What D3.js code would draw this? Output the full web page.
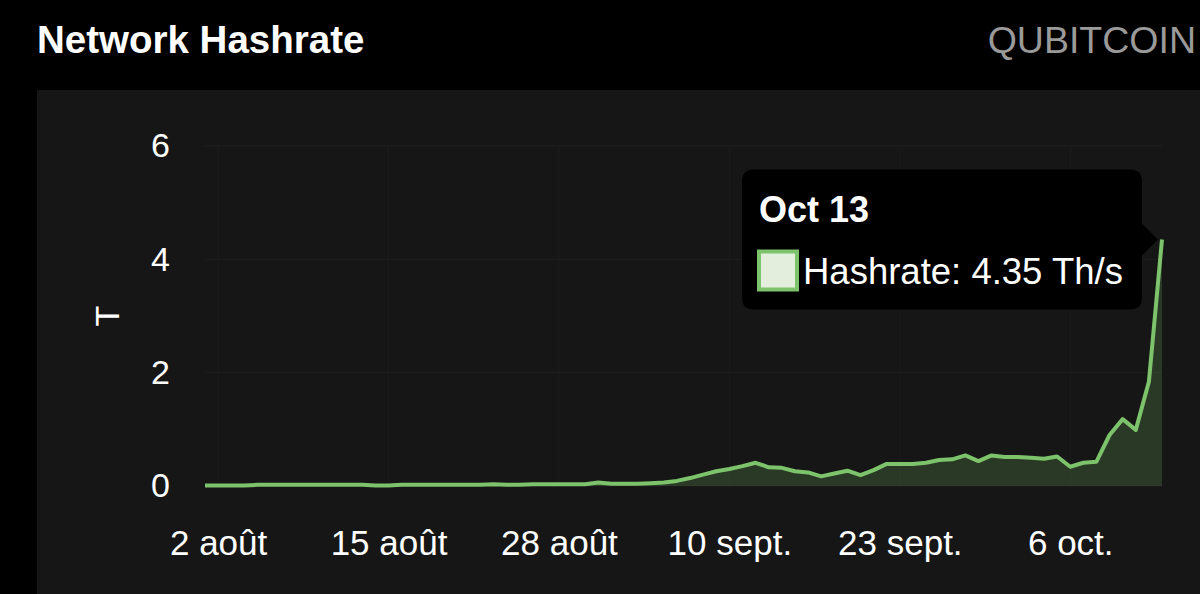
<!DOCTYPE html>
<html>
<head>
<meta charset="utf-8">
<script src="https://cdn.jsdelivr.net/npm/d3@7"></script>
<style>
    body { margin: 0; background: #000; }
    svg text { font-family: "Liberation Sans", Arial, Helvetica, sans-serif; }
</style>
</head>
<body>
<div id="chart"></div>
<script>
// first day of the series, one value per day (Th/s)
startDay = "2024-08-01"
hashrate = [
    0.01, 0.01, 0.01, 0.01, 0.02, 0.02, 0.02, 0.02, 0.02, 0.02,
    0.02, 0.02, 0.02, 0.01, 0.01, 0.02, 0.02, 0.02, 0.02, 0.02,
    0.02, 0.02, 0.03, 0.02, 0.02, 0.03, 0.03, 0.03, 0.03, 0.03,
    0.06, 0.04, 0.04, 0.04, 0.05, 0.06, 0.09, 0.14, 0.20, 0.26,
    0.30, 0.35, 0.41, 0.33, 0.32, 0.26, 0.24, 0.17, 0.22, 0.27,
    0.19, 0.28, 0.39, 0.39, 0.39, 0.41, 0.46, 0.47, 0.54, 0.44,
    0.54, 0.51, 0.51, 0.50, 0.48, 0.52, 0.34, 0.41, 0.43, 0.90,
    1.18, 0.99, 1.84, 4.35
]
xTicks = ["2024-08-02", "2024-08-15", "2024-08-28", "2024-09-10", "2024-09-23", "2024-10-06"]
yTicks = [0, 2, 4, 6]
tooltipTitle = "Oct 13"
tooltipLabel = "Hashrate: 4.35 Th/s"

var green = "#7cc36b"

// french short months, like the app shows
var fr = d3.timeFormatLocale({
    dateTime: "%A %e %B %Y à %X",
    date: "%d/%m/%Y",
    time: "%H:%M:%S",
    periods: ["AM", "PM"],
    days: ["dimanche", "lundi", "mardi", "mercredi", "jeudi", "vendredi", "samedi"],
    shortDays: ["dim.", "lun.", "mar.", "mer.", "jeu.", "ven.", "sam."],
    months: ["janvier", "février", "mars", "avril", "mai", "juin", "juillet", "août", "septembre", "octobre", "novembre", "décembre"],
    shortMonths: ["janv.", "févr.", "mars", "avr.", "mai", "juin", "juil.", "août", "sept.", "oct.", "nov.", "déc."]
})
var parseDay = d3.timeParse("%Y-%m-%d")

var data = hashrate.map(function (v, i) {
    return {date: d3.timeDay.offset(parseDay(startDay), i), value: v}
})

var width = 1200, height = 594
var plot = {left: 205, right: 1162, top: 146, bottom: 486}

var svg = d3.select("#chart").append("svg")
    .attr("width", width)
    .attr("height", height)

// header
svg.append("text")
    .attr("x", 37).attr("y", 53)
    .attr("fill", "#fff")
    .attr("font-size", 38.5)
    .attr("font-weight", 600)
    .text("Network Hashrate")

svg.append("text")
    .attr("x", 1196).attr("y", 53)
    .attr("text-anchor", "end")
    .attr("fill", "#9a9a9a")
    .attr("font-size", 37.5)
    .text("QUBITCOIN")

// dark panel behind the chart
svg.append("rect")
    .attr("x", 37).attr("y", 90)
    .attr("width", width - 37).attr("height", height - 90)
    .attr("fill", "#161616")

var x = d3.scaleTime()
    .domain(d3.extent(data, function (d) { return d.date; }))
    .range([plot.left, plot.right])
var y = d3.scaleLinear()
    .domain([0, 6])
    .range([plot.bottom, plot.top])

// faint grid
svg.append("g")
    .selectAll("line.h")
    .data(yTicks)
    .join("line")
    .attr("x1", plot.left).attr("x2", plot.right)
    .attr("y1", function (d) { return y(d); })
    .attr("y2", function (d) { return y(d); })
    .attr("stroke", "#1f1f1f")
svg.append("g")
    .selectAll("line.v")
    .data(xTicks.map(parseDay))
    .join("line")
    .attr("x1", function (d) { return x(d); })
    .attr("x2", function (d) { return x(d); })
    .attr("y1", plot.top).attr("y2", plot.bottom)
    .attr("stroke", "#1c1c1c")

// Y axis
var yAxis = svg.append("g")
    .attr("transform", "translate(" + plot.left + ",0)")
    .call(d3.axisLeft(y).tickValues(yTicks).tickFormat(d3.format("d")).tickSize(0).tickPadding(35))
yAxis.select(".domain").remove()
yAxis.selectAll("text")
    .attr("fill", "#fff")
    .attr("font-size", 34)
    .attr("font-family", null)

svg.append("text")
    .attr("transform", "translate(119,316) rotate(-90)")
    .attr("text-anchor", "middle")
    .attr("fill", "#fff")
    .attr("font-size", 34)
    .text("T")

// X axis
var xAxis = svg.append("g")
    .attr("transform", "translate(0," + plot.bottom + ")")
    .call(d3.axisBottom(x)
        .tickValues(xTicks.map(parseDay))
        .tickFormat(fr.format("%-d %b"))
        .tickSize(0)
        .tickPadding(69))
xAxis.select(".domain").remove()
xAxis.selectAll("text")
    .attr("fill", "#fff")
    .attr("font-size", 35)
    .attr("font-family", null)
    .attr("dy", 0)

// area + line
var area = d3.area()
    .x(function (d) { return x(d.date); })
    .y0(y(0))
    .y1(function (d) { return y(d.value); })
var valueline = d3.line()
    .x(function (d) { return x(d.date); })
    .y(function (d) { return y(d.value); })

svg.append("path")
    .datum(data)
    .attr("fill", green)
    .attr("fill-opacity", 0.2)
    .attr("d", area)
svg.append("path")
    .datum(data)
    .attr("fill", "none")
    .attr("stroke", green)
    .attr("stroke-width", 4)
    .attr("stroke-linejoin", "round")
    .attr("d", valueline)

// tooltip on the last point
var last = data[data.length - 1]
var tipX = x(last.date) - 4, tipY = y(last.value)
var bx1 = tipX - 16, bx0 = bx1 - 400, by0 = tipY - 70, by1 = tipY + 70, r = 12
var tip = svg.append("g")
tip.append("path")
    .attr("fill", "#000")
    .attr("d", "M" + (bx0 + r) + "," + by0 +
        " H" + (bx1 - r) + " Q" + bx1 + "," + by0 + " " + bx1 + "," + (by0 + r) +
        " V" + (tipY - 16) + " L" + tipX + "," + tipY + " L" + bx1 + "," + (tipY + 16) +
        " V" + (by1 - r) + " Q" + bx1 + "," + by1 + " " + (bx1 - r) + "," + by1 +
        " H" + (bx0 + r) + " Q" + bx0 + "," + by1 + " " + bx0 + "," + (by1 - r) +
        " V" + (by0 + r) + " Q" + bx0 + "," + by0 + " " + (bx0 + r) + "," + by0 + " Z")
tip.append("text")
    .attr("x", bx0 + 17).attr("y", by0 + 52)
    .attr("fill", "#fff")
    .attr("font-size", 36)
    .attr("font-weight", "bold")
    .text(tooltipTitle)
tip.append("rect")
    .attr("x", bx0 + 17).attr("y", by0 + 82)
    .attr("width", 38).attr("height", 38)
    .attr("fill", "#e3eedc")
    .attr("stroke", green)
    .attr("stroke-width", 4)
tip.append("text")
    .attr("x", bx0 + 61).attr("y", by0 + 114)
    .attr("fill", "#fff")
    .attr("font-size", 36.5)
    .text(tooltipLabel)
</script>
</body>
</html>
